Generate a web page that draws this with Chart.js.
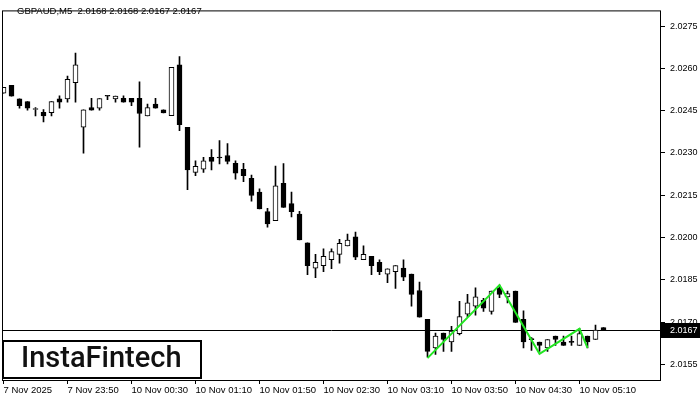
<!DOCTYPE html>
<html>
<head>
<meta charset="utf-8">
<script src="https://cdn.jsdelivr.net/npm/chart.js@4.4.0/dist/chart.umd.min.js"></script>
<style>
html, body { margin: 0; padding: 0; background: #fff; }
#wrap { width: 700px; height: 400px; }
</style>
</head>
<body>
<div id="wrap"><canvas id="chart" width="700" height="400"></canvas></div>
<script>
// GBPAUD M5, one entry per candle
const symbolTitle = 'GBPAUD,M5  2.0168 2.0168 2.0167 2.0167';
const opens = [
  2.02512, 2.02540, 2.02492, 2.02482, 2.02454, 2.02444, 2.02443, 2.02492, 2.02492, 2.02549,
  2.02391, 2.02461, 2.02459, 2.02503, 2.02492, 2.02494, 2.02494, 2.02494, 2.02431, 2.02473,
  2.02453, 2.02432, 2.02613, 2.02391, 2.02231, 2.02242, 2.02284, 2.02283, 2.02291, 2.02263,
  2.02242, 2.02210, 2.02161, 2.02092, 2.02060, 2.02192, 2.02120, 2.02083, 2.01981, 2.01891,
  2.01900, 2.01921, 2.01940, 2.01970, 2.02002, 2.01921, 2.01933, 2.01912, 2.01870, 2.01879,
  2.01891, 2.01870, 2.01812, 2.01710, 2.01608, 2.01661, 2.01629, 2.01659, 2.01728, 2.01756,
  2.01777, 2.01738, 2.01821, 2.01789, 2.01810, 2.01710, 2.01641, 2.01629, 2.01608, 2.01650,
  2.01629, 2.01629, 2.01617, 2.01650, 2.01638, 2.01680
];
const highs = [
  2.02533, 2.02540, 2.02492, 2.02482, 2.02461, 2.02454, 2.02482, 2.02503, 2.02573, 2.02654,
  2.02453, 2.02494, 2.02493, 2.02503, 2.02502, 2.02503, 2.02494, 2.02552, 2.02473, 2.02494,
  2.02453, 2.02604, 2.02642, 2.02391, 2.02272, 2.02284, 2.02312, 2.02344, 2.02333, 2.02272,
  2.02263, 2.02221, 2.02173, 2.02103, 2.02253, 2.02262, 2.02161, 2.02093, 2.01981, 2.01940,
  2.01960, 2.01960, 2.01993, 2.02012, 2.02019, 2.01970, 2.01933, 2.01921, 2.01889, 2.01900,
  2.01921, 2.01870, 2.01842, 2.01710, 2.01661, 2.01661, 2.01685, 2.01773, 2.01798, 2.01821,
  2.01784, 2.01810, 2.01831, 2.01810, 2.01810, 2.01740, 2.01645, 2.01629, 2.01638, 2.01650,
  2.01650, 2.01650, 2.01678, 2.01650, 2.01689, 2.01680
];
const lows = [
  2.02512, 2.02501, 2.02459, 2.02452, 2.02431, 2.02410, 2.02431, 2.02459, 2.02480, 2.02480,
  2.02299, 2.02452, 2.02452, 2.02489, 2.02480, 2.02480, 2.02468, 2.02320, 2.02431, 2.02459,
  2.02442, 2.02432, 2.02379, 2.02170, 2.02219, 2.02231, 2.02240, 2.02261, 2.02261, 2.02207,
  2.02198, 2.02129, 2.02101, 2.02037, 2.02060, 2.02107, 2.02073, 2.01991, 2.01868, 2.01857,
  2.01879, 2.01889, 2.01909, 2.01970, 2.01921, 2.01921, 2.01868, 2.01868, 2.01840, 2.01819,
  2.01847, 2.01756, 2.01717, 2.01575, 2.01585, 2.01596, 2.01596, 2.01654, 2.01719, 2.01724,
  2.01738, 2.01728, 2.01786, 2.01768, 2.01699, 2.01608, 2.01599, 2.01596, 2.01596, 2.01617,
  2.01617, 2.01617, 2.01617, 2.01608, 2.01638, 2.01670
];
const closes = [
  2.02533, 2.02501, 2.02468, 2.02459, 2.02454, 2.02431, 2.02482, 2.02480, 2.02561, 2.02613,
  2.02453, 2.02452, 2.02493, 2.02501, 2.02502, 2.02480, 2.02480, 2.02440, 2.02461, 2.02459,
  2.02442, 2.02604, 2.02400, 2.02240, 2.02252, 2.02272, 2.02270, 2.02282, 2.02270, 2.02228,
  2.02219, 2.02149, 2.02101, 2.02048, 2.02183, 2.02107, 2.02092, 2.01991, 2.01900, 2.01912,
  2.01933, 2.01950, 2.01979, 2.01991, 2.01930, 2.01940, 2.01900, 2.01879, 2.01889, 2.01900,
  2.01859, 2.01798, 2.01717, 2.01596, 2.01650, 2.01638, 2.01668, 2.01719, 2.01768, 2.01789,
  2.01749, 2.01810, 2.01798, 2.01801, 2.01699, 2.01629, 2.01637, 2.01617, 2.01638, 2.01638,
  2.01617, 2.01628, 2.01659, 2.01629, 2.01671, 2.01670
];
const tickIndex = [0, 8, 16, 24, 32, 40, 48, 56, 64, 72];
const tickLabels = ['7 Nov 2025', '7 Nov 23:50', '10 Nov 00:30', '10 Nov 01:10', '10 Nov 01:50',
  '10 Nov 02:30', '10 Nov 03:10', '10 Nov 03:50', '10 Nov 04:30', '10 Nov 05:10'];
const yTicks = [2.0155, 2.0170, 2.0185, 2.0200, 2.0215, 2.0230, 2.0245, 2.0260, 2.0275];
// green pattern line (candle index -> price)
const patternIdx = [53, 62, 67, 72, 73];
const patternVals = [2.01572, 2.01831, 2.01587, 2.01676, 2.01608];
const lastPrice = 2.0167;

const FONT = '"Liberation Sans", Arial, sans-serif';

const wicks = opens.map((o, i) => ({ x: i, y: [lows[i], highs[i]] }));
const bodies = opens.map((o, i) => ({ x: i, y: [o, closes[i]] }));
const bodyFill = opens.map((o, i) => closes[i] >= o ? '#ffffff' : '#000000');

const overlay = {
  id: 'overlay',
  beforeDatasetsDraw(c) {
    const { ctx, chartArea: a, scales: { y } } = c;
    const py = Math.round(y.getPixelForValue(lastPrice)) + 0.5;
    ctx.save();
    ctx.strokeStyle = '#000';
    ctx.lineWidth = 1;
    ctx.beginPath();
    ctx.moveTo(a.left, py);
    ctx.lineTo(a.right, py);
    ctx.stroke();
    ctx.restore();
  },
  afterDraw(c) {
    const { ctx, chartArea: a, scales: { y } } = c;
    ctx.save();
    // frame
    ctx.strokeStyle = '#000';
    ctx.lineWidth = 1;
    ctx.strokeRect(a.left + 0.5, a.top + 0.5, a.right - a.left - 1, a.bottom - a.top);
    // title
    ctx.fillStyle = '#000';
    ctx.font = '9.5px ' + FONT;
    ctx.textBaseline = 'middle';
    ctx.textAlign = 'left';
    ctx.fillText(symbolTitle, 17, 11);
    // current price box
    const py = Math.round(y.getPixelForValue(lastPrice));
    ctx.fillStyle = '#000';
    ctx.fillRect(a.right, py - 7, 700 - a.right, 15);
    ctx.fillStyle = '#fff';
    ctx.font = '9px ' + FONT;
    ctx.fillText(lastPrice.toFixed(4), a.right + 9, py + 1);
    // logo
    ctx.fillStyle = '#fff';
    ctx.fillRect(3, 340, 198, 38);
    ctx.strokeStyle = '#000';
    ctx.lineWidth = 2;
    ctx.strokeRect(3, 341, 198, 37);
    ctx.fillStyle = '#111';
    ctx.font = '500 29px Roboto, sans-serif';
    ctx.textBaseline = 'middle';
    ctx.fillText('InstaFintech', 21, 360);
    ctx.restore();
  }
};

new Chart(document.getElementById('chart'), {
  type: 'bar',
  data: {
    datasets: [
      {
        type: 'line',
        data: patternIdx.map((x, i) => ({ x, y: patternVals[i] })),
        borderColor: '#22e622',
        borderWidth: 2,
        pointRadius: 0,
        tension: 0,
        order: 0
      },
      {
        data: bodies,
        backgroundColor: bodyFill,
        borderColor: '#000',
        borderWidth: 1,
        borderSkipped: false,
        barThickness: 5,
        minBarLength: 1,
        grouped: false,
        order: 1
      },
      {
        data: wicks,
        backgroundColor: '#000',
        borderWidth: 0,
        barThickness: 1,
        grouped: false,
        order: 2
      }
    ]
  },
  options: {
    responsive: false,
    animation: false,
    devicePixelRatio: 1,
    layout: { padding: { left: 2, top: 3, right: 0, bottom: 0 } },
    plugins: { legend: { display: false }, tooltip: { enabled: false }, title: { display: false } },
    scales: {
      x: {
        type: 'linear',
        offset: false,
        min: -0.1875,
        max: 82.1875,
        afterBuildTicks: (s) => { s.ticks = tickIndex.map(v => ({ value: v })); },
        afterFit: (s) => { s.height = 20; },
        grid: { offset: false, drawOnChartArea: false, drawTicks: true, tickLength: 4, color: '#000' },
        border: { display: false },
        ticks: {
          autoSkip: false,
          maxRotation: 0,
          align: 'start',
          padding: 1,
          color: '#000',
          font: { family: FONT, size: 9.5 },
          callback: (v) => tickLabels[tickIndex.indexOf(v)]
        }
      },
      y: {
        type: 'linear',
        position: 'right',
        min: 2.014943,
        max: 2.028057,
        afterBuildTicks: (s) => { s.ticks = yTicks.map(v => ({ value: v })); },
        afterFit: (s) => { s.width = 39; },
        grid: { drawOnChartArea: false, drawTicks: true, tickLength: 4, color: '#000' },
        border: { display: false },
        ticks: {
          padding: 5,
          color: '#000',
          font: { family: FONT, size: 9 },
          callback: (v) => Number(v).toFixed(4)
        }
      }
    }
  },
  plugins: [overlay]
});
</script>
</body>
</html>
